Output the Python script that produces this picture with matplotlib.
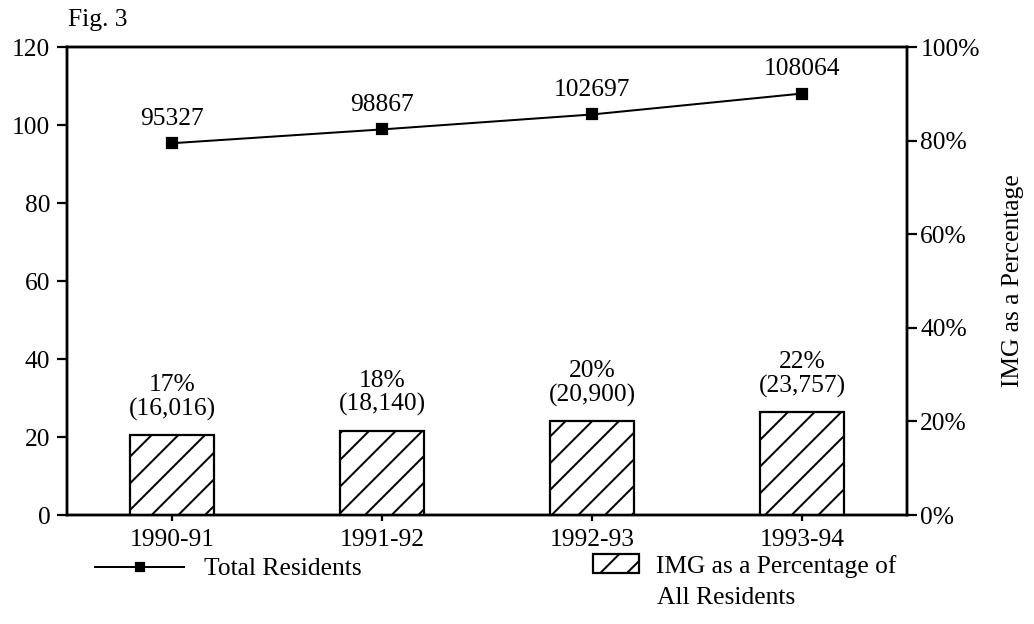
import matplotlib
matplotlib.use("Agg")
import matplotlib.pyplot as plt
from matplotlib.lines import Line2D
from matplotlib.patches import Patch
from matplotlib.ticker import FuncFormatter

# data
years = ["1990-91", "1991-92", "1992-93", "1993-94"]
total_residents = [95327, 98867, 102697, 108064]
img_pct = [17, 18, 20, 22]
img_count = [16016, 18140, 20900, 23757]

plt.rcParams['font.family'] = ['Liberation Serif', 'DejaVu Serif']
plt.rcParams['hatch.linewidth'] = 0.9
fs = 11.5

DPI = 160
fig = plt.figure(figsize=(1034 / DPI, 624 / DPI), dpi=DPI)
ax = fig.add_axes([67 / 1034, 1 - 515 / 624, (907 - 67) / 1034, (515 - 47) / 624])
ax2 = ax.twinx()

x = list(range(len(years)))

# total residents (thousands) on the left axis
ax.plot(x, [t / 1000 for t in total_residents], color='black', lw=0.9,
        marker='s', ms=4.2, mfc='black', mec='black')
for i, t in enumerate(total_residents):
    ax.annotate(str(t), (i, t / 1000), xytext=(0, 6), textcoords='offset points',
                ha='center', va='bottom', fontsize=fs)

# IMG share on the right axis
ax2.bar(x, img_pct, width=0.4, color='white', edgecolor='black', lw=1.0, hatch='//')
for i, (p, c) in enumerate(zip(img_pct, img_count)):
    ax2.annotate(f"{p}%\n({c:,})", (i, p), xytext=(0, 6.5), textcoords='offset points',
                 ha='center', va='bottom', fontsize=fs, linespacing=1.08)

ax.set_xlim(-0.5, 3.5)
ax.set_ylim(0, 120)
ax.set_yticks(range(0, 121, 20))
ax2.set_ylim(0, 100)
ax2.set_yticks(range(0, 101, 20))
ax2.yaxis.set_major_formatter(FuncFormatter(lambda v, p: f"{int(v)}%"))
ax.set_xticks(x)
ax.set_xticklabels(years)

for a in (ax, ax2):
    for s in a.spines.values():
        s.set_linewidth(1.1)
    a.tick_params(direction='out', length=4.5, width=1.0, labelsize=fs)
ax.tick_params(axis='y', pad=3)
ax2.tick_params(axis='y', pad=1.5)
ax.tick_params(axis='x', length=2.5, pad=4)

ax2.set_ylabel("IMG as a Percentage", fontsize=fs, labelpad=10)

fig.text(68 / 1034, 1 - 20 / 624, "Fig. 3", fontsize=fs, va='center', ha='left')

# legends
h1 = Line2D([], [], color='black', lw=0.9, marker='s', ms=3.5)
fig.legend(handles=[h1], labels=["Total Residents"], loc='center left',
           bbox_to_anchor=(95 / 1034, 1 - 569 / 624), frameon=False,
           fontsize=fs, handlelength=3.5, handletextpad=0.75,
           borderpad=0, borderaxespad=0)
h2 = Patch(facecolor='white', edgecolor='black', hatch='//', lw=1.0)
fig.legend(handles=[h2], labels=["IMG as a Percentage of"], loc='center left',
           bbox_to_anchor=(593 / 1034, 1 - 566 / 624), frameon=False,
           fontsize=fs, handlelength=1.8, handleheight=0.75, handletextpad=0.65,
           borderpad=0, borderaxespad=0)
fig.text(657 / 1034, 1 - 598 / 624, "All Residents", fontsize=fs, va='center', ha='left')

fig.savefig("out.png", dpi=DPI)
